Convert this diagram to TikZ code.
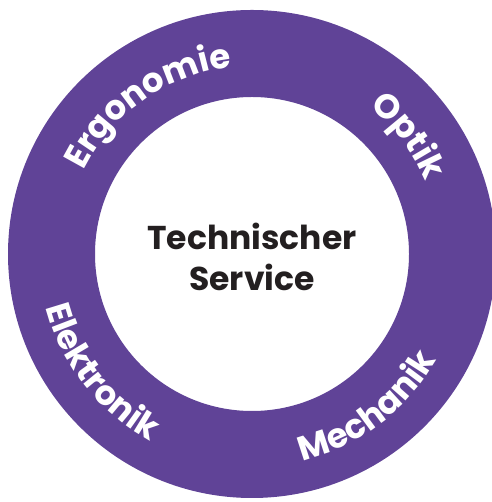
\documentclass[tikz,border=0pt]{standalone}
\usepackage{fontspec}
\setmainfont{Poppins}
\usetikzlibrary{decorations.text}
\definecolor{ringpurple}{RGB}{96,67,151}
\definecolor{inkblack}{RGB}{35,31,32}
\newcommand\ringfont{\fontsize{34}{34}\selectfont\bfseries}
\tikzset{
  ringlabel/.style={decorate, decoration={text along path, text align=center,
    text color=white, text={|\ringfont|#1}}},
}

\begin{document}
\begin{tikzpicture}[x=1pt,y=1pt]
  \useasboundingbox (0,0) rectangle (491,502);
  \coordinate (C) at (252,248);
  % ring
  \fill[ringpurple, even odd rule] (C) circle (244) (C) circle (157);
  % labels on the ring
  \path[ringlabel=Ergonomie] ([shift={(170:188)}]C) arc[start angle=170, end angle=80, radius=188];
  \path[ringlabel=Optik] ([shift={(82:188)}]C) arc[start angle=82, end angle=-8, radius=188];
  \path[ringlabel=Elektronik] ([shift={(173:213)}]C) arc[start angle=173, end angle=263, radius=213];
  \path[ringlabel=Mechanik] ([shift={(262:213)}]C) arc[start angle=262, end angle=352, radius=213];
  % centre
  \node[align=center, text=inkblack, font=\fontsize{33}{41}\selectfont\bfseries] (service) at ([yshift=-3]C) {Technischer\\Service};
\end{tikzpicture}
\end{document}
